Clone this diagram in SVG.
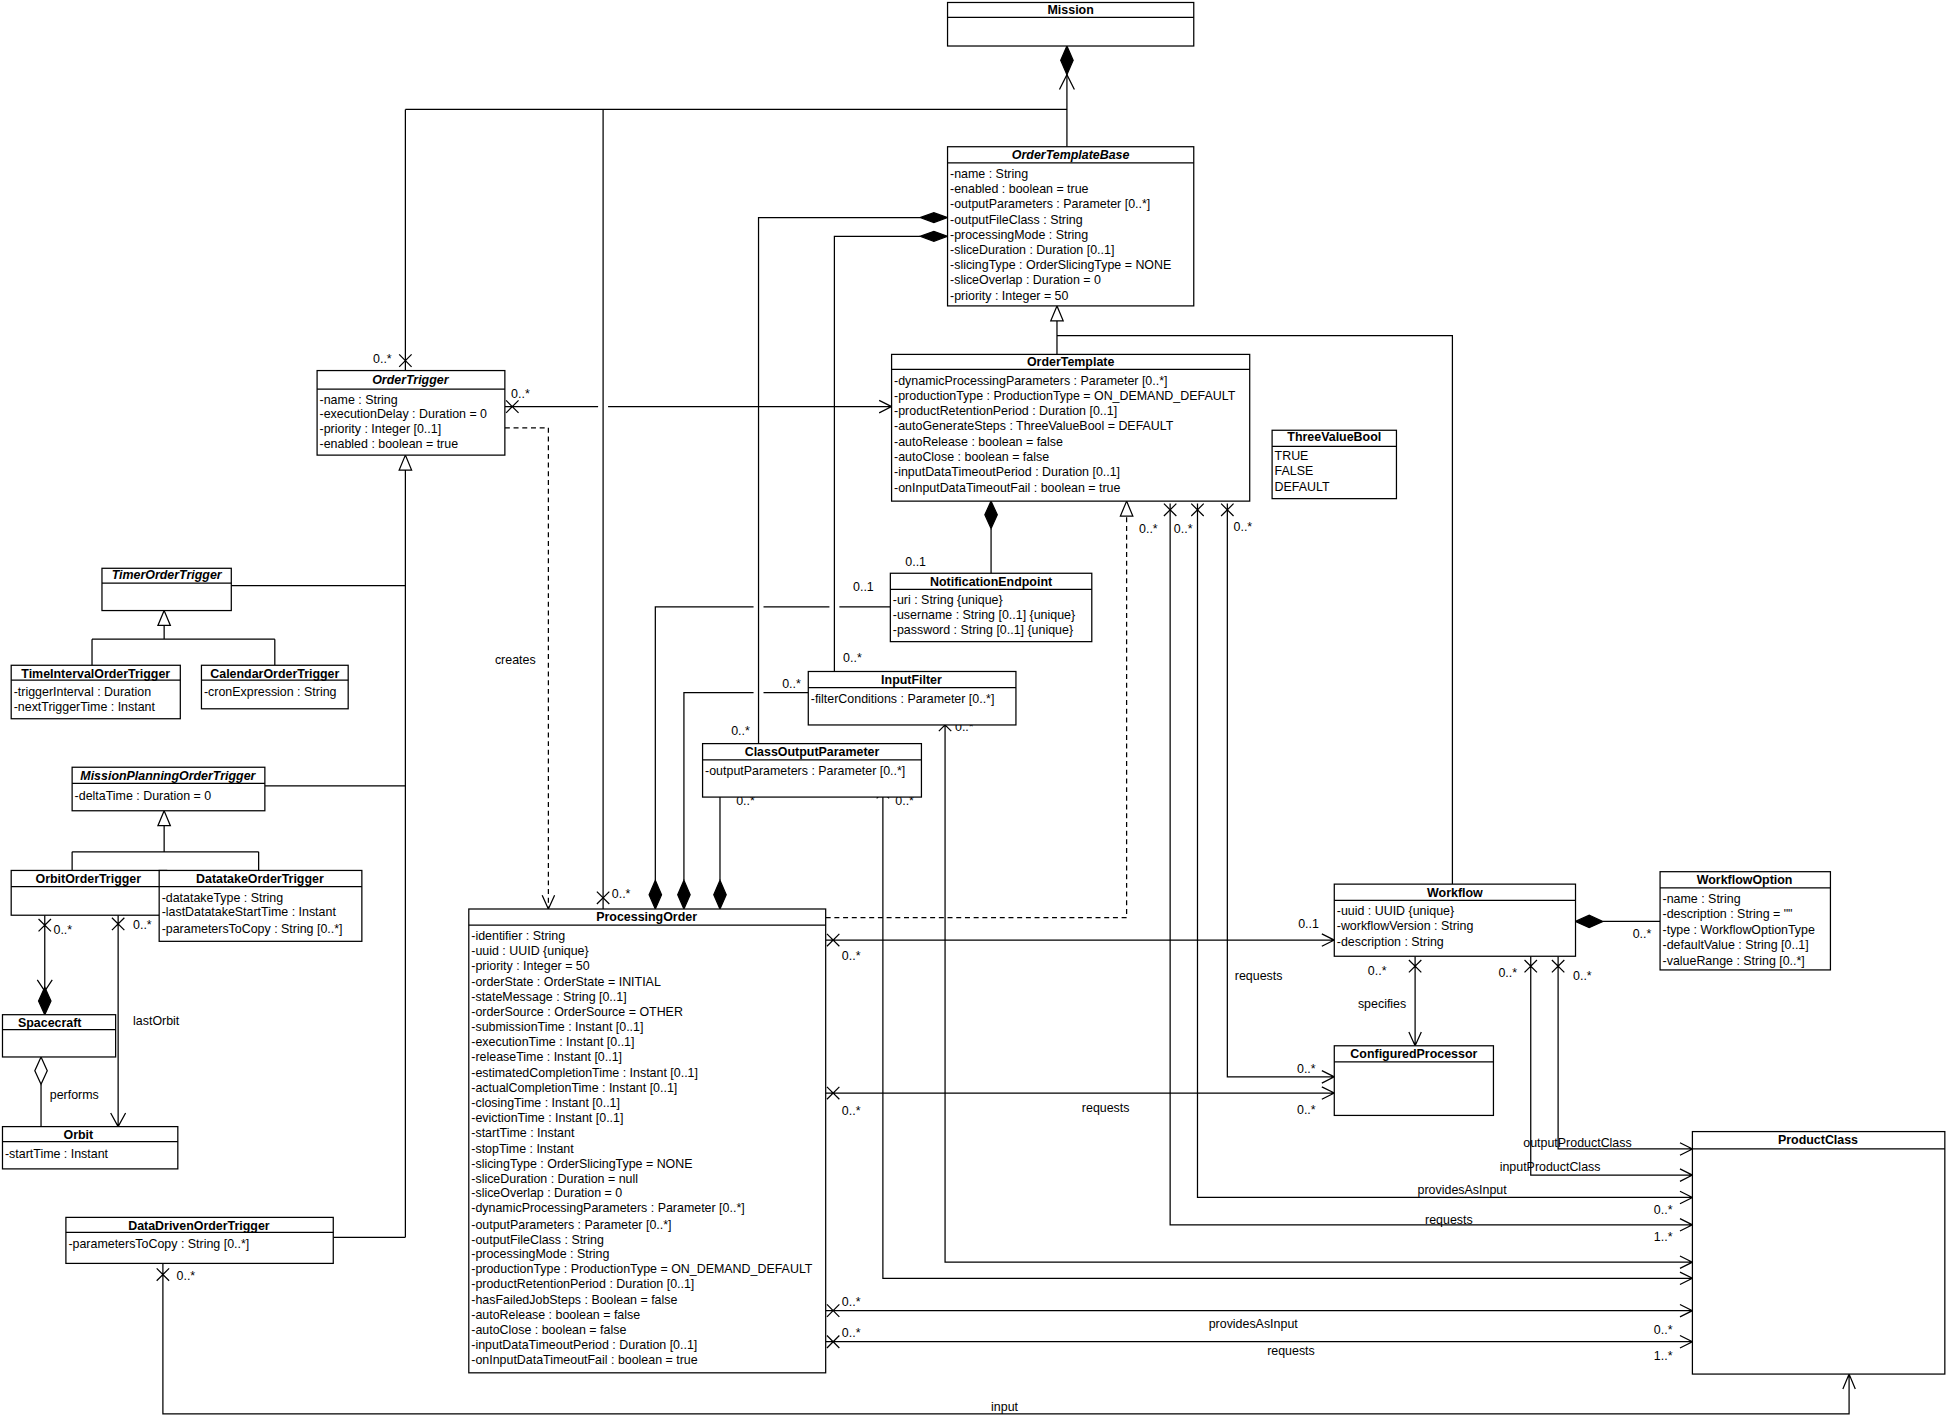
<svg xmlns="http://www.w3.org/2000/svg" width="1946" height="1416" viewBox="0 0 1946 1416">
<style>
text{font-family:"Liberation Sans",Arial,sans-serif;font-size:10px;fill:#000}
.t{font-weight:bold;text-anchor:middle}
.ti{font-weight:bold;font-style:italic;text-anchor:middle}
.b{fill:#fff;stroke:#000;stroke-width:1}
.l{fill:none;stroke:#000;stroke-width:1}
.d{fill:none;stroke:#000;stroke-width:1;stroke-dasharray:4,3}
.fd{fill:#000;stroke:#000}
.hd{fill:#fff;stroke:#000}
</style>
<rect width="1946" height="1416" fill="#fff"/>
<g transform="scale(1.2435)">
<g id="connectors">
<!-- Mission compositions -->
<path class="l" d="M858 60 V118 M326 88 H858 M326 88 V298 M485 88 V731"/>
<polygon class="fd" points="858,37 853,48.5 858,60 863,48.5"/>
<path class="l" d="M852 72 L858 60 L864 72"/>
<path class="l" d="M321 285 L331 295 M331 285 L321 295 M480 717 L490 727 M490 717 L480 727"/>
<text x="300" y="292">0..*</text>
<text x="492" y="722">0..*</text>
<!-- OTB generalization -->
<path class="l" d="M850 258 V285 M850 270 H1168 V711"/>
<polygon class="hd" points="850,246 845,258 855,258"/>
<!-- OTB compositions -->
<polygon class="fd" points="762,175 751,171 740,175 751,179"/>
<path class="l" d="M740 175 H610 V598"/>
<polygon class="fd" points="762,190 751,186 740,190 751,194"/>
<path class="l" d="M740 190 H671 V540"/>
<text x="588" y="591">0..*</text>
<text x="678" y="532">0..*</text>
<!-- OrderTrigger -> OrderTemplate -->
<path class="l" d="M406 327 H481 M489 327 H717 M707 322 L717 327 L707 332 M407 322 L417 332 M417 322 L407 332"/>
<text x="411" y="320">0..*</text>
<!-- creates -->
<path class="d" d="M406 344 H441 V731"/>
<path class="l" d="M436 720 L441 731 L446 720"/>
<text x="398" y="534">creates</text>
<!-- OrderTrigger generalization -->
<polygon class="hd" points="326,366 321,378 331,378"/>
<path class="l" d="M326 378 V995 M186 471 H326 M213 632 H326 M268 995 H326"/>
<!-- Timer gen -->
<polygon class="hd" points="132,491 127,503 137,503"/>
<path class="l" d="M132 503 V514 M74 514 H221 M74 514 V535 M221 514 V535"/>
<!-- MissionPlanning gen -->
<polygon class="hd" points="132,652 127,664 137,664"/>
<path class="l" d="M132 664 V685 M58 685 H208 M58 685 V700 M208 685 V700"/>
<!-- Orbit trigger -> spacecraft -->
<path class="l" d="M36 736 V795 M30 788 L36 797 L42 788 M31 739 L41 749 M41 739 L31 749"/>
<polygon class="fd" points="36,794 31,805 36,816 41,805"/>
<text x="43" y="751">0..*</text>
<path class="l" d="M95 736 V906 M89 895 L95 906 L101 895 M90 738 L100 748 M100 738 L90 748"/>
<text x="107" y="747">0..*</text>
<text x="107" y="824">lastOrbit</text>
<polygon class="hd" points="33,850 28,861 33,872 38,861"/>
<path class="l" d="M33 872 V906"/>
<text x="40" y="884">performs</text>
<!-- input -->
<path class="l" d="M131 1016 V1137 H1487 V1105 M1482 1117 L1487 1105 L1492 1117 M126 1020 L136 1030 M136 1020 L126 1030"/>
<text x="142" y="1029">0..*</text>
<text x="797" y="1135">input</text>
<!-- NotificationEndpoint -->
<polygon class="fd" points="797,403 792,414 797,425 802,414"/>
<path class="l" d="M797 425 V461"/>
<text x="728" y="455">0..1</text>
<path class="l" d="M716 488 H675 M667 488 H614 M606 488 H527 V708"/>
<text x="686" y="475">0..1</text>
<path class="l" d="M650 557 H614 M606 557 H550 V708"/>
<text x="629" y="553">0..*</text>
<path class="l" d="M579 641 V708"/>
<text x="592" y="647">0..*</text>
<polygon class="fd" points="527,731 522,719.5 527,708 532,719.5"/>
<polygon class="fd" points="550,731 545,719.5 550,708 555,719.5"/>
<polygon class="fd" points="579,731 574,719.5 579,708 584,719.5"/>
<!-- PO realization -->
<path class="d" d="M664 738 H906 V415"/>
<polygon class="hd" points="906,403 901,415 911,415"/>
<!-- OrderTemplate bottom associations -->
<path class="l" d="M936 405 L946 415 M946 405 L936 415 M958 405 L968 415 M968 405 L958 415 M982 405 L992 415 M992 405 L982 415"/>
<text x="916" y="429">0..*</text>
<text x="944" y="429">0..*</text>
<text x="992" y="427">0..*</text>
<path class="l" d="M941 405 V985 H1361 M1351 980 L1361 985 L1351 990"/>
<text x="1146" y="984">requests</text>
<text x="1330" y="998">1..*</text>
<path class="l" d="M963 405 V963 H1361 M1351 958 L1361 963 L1351 968"/>
<text x="1140" y="960">providesAsInput</text>
<text x="1330" y="976">0..*</text>
<path class="l" d="M987 405 V866 H1073 M1063 861 L1073 866 L1063 871"/>
<text x="993" y="788">requests</text>
<text x="1043" y="863">0..*</text>
<!-- ClassOutputParameter / InputFilter -> ProductClass -->
<path class="l" d="M710 641 V1028 H1361 M1351 1023 L1361 1028 L1351 1033 M705 632 L715 642 M715 632 L705 642"/>
<text x="720" y="647">0..*</text>
<path class="l" d="M760 583 V1015 H1361 M1351 1010 L1361 1015 L1351 1020 M755 578 L765 588 M765 578 L755 588"/>
<text x="768" y="588">0..*</text>
<!-- PO -> Workflow -->
<path class="l" d="M664 756 H1073 M1063 751 L1073 756 L1063 761 M665 751 L675 761 M675 751 L665 761"/>
<text x="677" y="772">0..*</text>
<text x="1044" y="746">0..1</text>
<!-- PO -> ConfiguredProcessor -->
<path class="l" d="M664 879 H1073 M1063 874 L1073 879 L1063 884 M665 874 L675 884 M675 874 L665 884"/>
<text x="677" y="897">0..*</text>
<text x="870" y="894">requests</text>
<text x="1043" y="896">0..*</text>
<!-- PO -> ProductClass -->
<path class="l" d="M664 1054 H1361 M1351 1049 L1361 1054 L1351 1059 M665 1049 L675 1059 M675 1049 L665 1059"/>
<text x="677" y="1050">0..*</text>
<text x="972" y="1068">providesAsInput</text>
<text x="1330" y="1073">0..*</text>
<path class="l" d="M664 1079 H1361 M1351 1074 L1361 1079 L1351 1084 M665 1074 L675 1084 M675 1074 L665 1084"/>
<text x="677" y="1075">0..*</text>
<text x="1019" y="1090">requests</text>
<text x="1330" y="1094">1..*</text>
<!-- Workflow -> ConfiguredProcessor -->
<path class="l" d="M1138 769 V841 M1133 830 L1138 841 L1143 830 M1133 772 L1143 782 M1143 772 L1133 782"/>
<text x="1100" y="784">0..*</text>
<text x="1092" y="811">specifies</text>
<!-- Workflow -> ProductClass -->
<path class="l" d="M1231 769 V945 H1361 M1351 940 L1361 945 L1351 950 M1226 772 L1236 782 M1236 772 L1226 782"/>
<text x="1205" y="786">0..*</text>
<text x="1206" y="942">inputProductClass</text>
<path class="l" d="M1253 769 V924 H1361 M1351 919 L1361 924 L1351 929 M1248 772 L1258 782 M1258 772 L1248 782"/>
<text x="1265" y="788">0..*</text>
<text x="1225" y="922">outputProductClass</text>
<!-- Workflow - WorkflowOption -->
<polygon class="fd" points="1267,741 1278,736 1289,741 1278,746"/>
<path class="l" d="M1289 741 H1335"/>
<text x="1313" y="754">0..*</text>
</g>

<g id="Mission"><rect class="b" x="762" y="2" width="198" height="35"/><path class="l" d="M762 14 H960"/><text class="t" x="861" y="11">Mission</text></g>

<g id="OrderTemplateBase"><rect class="b" x="762" y="118" width="198" height="128"/><path class="l" d="M762 131 H960"/><text class="ti" x="861" y="128">OrderTemplateBase</text>
<text x="764" y="143">-name : String</text><text x="764" y="155">-enabled : boolean = true</text><text x="764" y="167">-outputParameters : Parameter [0..*]</text><text x="764" y="180">-outputFileClass : String</text><text x="764" y="192">-processingMode : String</text><text x="764" y="204">-sliceDuration : Duration [0..1]</text><text x="764" y="216">-slicingType : OrderSlicingType = NONE</text><text x="764" y="228">-sliceOverlap : Duration = 0</text><text x="764" y="241">-priority : Integer = 50</text></g>

<g id="OrderTemplate"><rect class="b" x="717" y="285" width="288" height="118"/><path class="l" d="M717 297 H1005"/><text class="t" x="861" y="294">OrderTemplate</text>
<text x="719" y="310">-dynamicProcessingParameters : Parameter [0..*]</text><text x="719" y="322">-productionType : ProductionType = ON_DEMAND_DEFAULT</text><text x="719" y="334">-productRetentionPeriod : Duration [0..1]</text><text x="719" y="346">-autoGenerateSteps : ThreeValueBool = DEFAULT</text><text x="719" y="359">-autoRelease : boolean = false</text><text x="719" y="371">-autoClose : boolean = false</text><text x="719" y="383">-inputDataTimeoutPeriod : Duration [0..1]</text><text x="719" y="396">-onInputDataTimeoutFail : boolean = true</text></g>

<g id="ThreeValueBool"><rect class="b" x="1023" y="346" width="100" height="55"/><path class="l" d="M1023 359 H1123"/><text class="t" x="1073" y="355">ThreeValueBool</text><text x="1025" y="370">TRUE</text><text x="1025" y="382">FALSE</text><text x="1025" y="395">DEFAULT</text></g>

<g id="OrderTrigger"><rect class="b" x="255" y="298" width="151" height="68"/><path class="l" d="M255 313 H406"/><text class="ti" x="330" y="309">OrderTrigger</text>
<text x="257" y="325">-name : String</text><text x="257" y="336">-executionDelay : Duration = 0</text><text x="257" y="348">-priority : Integer [0..1]</text><text x="257" y="360">-enabled : boolean = true</text></g>

<g id="TimerOrderTrigger"><rect class="b" x="82" y="457" width="104" height="34"/><path class="l" d="M82 469 H186"/><text class="ti" x="134" y="466">TimerOrderTrigger</text></g>

<g id="TimeIntervalOrderTrigger"><rect class="b" x="9" y="535" width="136" height="43"/><path class="l" d="M9 547 H145"/><text class="t" x="77" y="545">TimeIntervalOrderTrigger</text><text x="11" y="560">-triggerInterval : Duration</text><text x="11" y="572">-nextTriggerTime : Instant</text></g>

<g id="CalendarOrderTrigger"><rect class="b" x="162" y="535" width="118" height="35"/><path class="l" d="M162 547 H280"/><text class="t" x="221" y="545">CalendarOrderTrigger</text><text x="164" y="560">-cronExpression : String</text></g>

<g id="MissionPlanningOrderTrigger"><rect class="b" x="58" y="617" width="155" height="35"/><path class="l" d="M58 630 H213"/><text class="ti" x="135" y="627">MissionPlanningOrderTrigger</text><text x="60" y="643">-deltaTime : Duration = 0</text></g>

<g id="OrbitOrderTrigger"><rect class="b" x="9" y="700" width="125" height="36"/><path class="l" d="M9 713 H134"/><text class="t" x="71" y="710">OrbitOrderTrigger</text></g>

<g id="DatatakeOrderTrigger"><rect class="b" x="128" y="700" width="163" height="57"/><path class="l" d="M128 713 H291"/><text class="t" x="209" y="710">DatatakeOrderTrigger</text><text x="130" y="725">-datatakeType : String</text><text x="130" y="737">-lastDatatakeStartTime : Instant</text><text x="130" y="750">-parametersToCopy : String [0..*]</text></g>

<g id="Spacecraft"><rect class="b" x="2" y="816" width="91" height="34"/><path class="l" d="M2 828 H93"/><text class="t" x="40" y="826">Spacecraft</text></g>

<g id="Orbit"><rect class="b" x="2" y="906" width="141" height="34"/><path class="l" d="M2 918 H143"/><text class="t" x="63" y="916">Orbit</text><text x="4" y="931">-startTime : Instant</text></g>

<g id="DataDrivenOrderTrigger"><rect class="b" x="53" y="979" width="215" height="37"/><path class="l" d="M53 991 H268"/><text class="t" x="160" y="989">DataDrivenOrderTrigger</text><text x="55" y="1004">-parametersToCopy : String [0..*]</text></g>

<g id="NotificationEndpoint"><rect class="b" x="716" y="461" width="162" height="55"/><path class="l" d="M716 474 H878"/><text class="t" x="797" y="471">NotificationEndpoint</text><text x="718" y="486">-uri : String {unique}</text><text x="718" y="498">-username : String [0..1] {unique}</text><text x="718" y="510">-password : String [0..1] {unique}</text></g>

<g id="InputFilter"><rect class="b" x="650" y="540" width="167" height="43"/><path class="l" d="M650 553 H817"/><text class="t" x="733" y="550">InputFilter</text><text x="652" y="565">-filterConditions : Parameter [0..*]</text></g>

<g id="ClassOutputParameter"><rect class="b" x="565" y="598" width="176" height="43"/><path class="l" d="M565 611 H741"/><text class="t" x="653" y="608">ClassOutputParameter</text><text x="567" y="623">-outputParameters : Parameter [0..*]</text></g>

<g id="ProcessingOrder"><rect class="b" x="377" y="731" width="287" height="373"/><path class="l" d="M377 744 H664"/><text class="t" x="520" y="741">ProcessingOrder</text>
<text x="379" y="756">-identifier : String</text>
<text x="379" y="768">-uuid : UUID {unique}</text>
<text x="379" y="780">-priority : Integer = 50</text>
<text x="379" y="793">-orderState : OrderState = INITIAL</text>
<text x="379" y="805">-stateMessage : String [0..1]</text>
<text x="379" y="817">-orderSource : OrderSource = OTHER</text>
<text x="379" y="829">-submissionTime : Instant [0..1]</text>
<text x="379" y="841">-executionTime : Instant [0..1]</text>
<text x="379" y="853">-releaseTime : Instant [0..1]</text>
<text x="379" y="866">-estimatedCompletionTime : Instant [0..1]</text>
<text x="379" y="878">-actualCompletionTime : Instant [0..1]</text>
<text x="379" y="890">-closingTime : Instant [0..1]</text>
<text x="379" y="902">-evictionTime : Instant [0..1]</text>
<text x="379" y="914">-startTime : Instant</text>
<text x="379" y="927">-stopTime : Instant</text>
<text x="379" y="939">-slicingType : OrderSlicingType = NONE</text>
<text x="379" y="951">-sliceDuration : Duration = null</text>
<text x="379" y="963">-sliceOverlap : Duration = 0</text>
<text x="379" y="975">-dynamicProcessingParameters : Parameter [0..*]</text>
<text x="379" y="988">-outputParameters : Parameter [0..*]</text>
<text x="379" y="1000">-outputFileClass : String</text>
<text x="379" y="1012">-processingMode : String</text>
<text x="379" y="1024">-productionType : ProductionType = ON_DEMAND_DEFAULT</text>
<text x="379" y="1036">-productRetentionPeriod : Duration [0..1]</text>
<text x="379" y="1049">-hasFailedJobSteps : Boolean = false</text>
<text x="379" y="1061">-autoRelease : boolean = false</text>
<text x="379" y="1073">-autoClose : boolean = false</text>
<text x="379" y="1085">-inputDataTimeoutPeriod : Duration [0..1]</text>
<text x="379" y="1097">-onInputDataTimeoutFail : boolean = true</text></g>

<g id="Workflow"><rect class="b" x="1073" y="711" width="194" height="58"/><path class="l" d="M1073 724 H1267"/><text class="t" x="1170" y="721">Workflow</text><text x="1075" y="736">-uuid : UUID {unique}</text><text x="1075" y="748">-workflowVersion : String</text><text x="1075" y="761">-description : String</text></g>

<g id="WorkflowOption"><rect class="b" x="1335" y="701" width="137" height="79"/><path class="l" d="M1335 714 H1472"/><text class="t" x="1403" y="711">WorkflowOption</text><text x="1337" y="726">-name : String</text><text x="1337" y="738">-description : String = ""</text><text x="1337" y="751">-type : WorkflowOptionType</text><text x="1337" y="763">-defaultValue : String [0..1]</text><text x="1337" y="776">-valueRange : String [0..*]</text></g>

<g id="ConfiguredProcessor"><rect class="b" x="1073" y="841" width="128" height="56"/><path class="l" d="M1073 854 H1201"/><text class="t" x="1137" y="851">ConfiguredProcessor</text></g>

<g id="ProductClass"><rect class="b" x="1361" y="910" width="203" height="195"/><path class="l" d="M1361 924 H1564"/><text class="t" x="1462" y="920">ProductClass</text></g>
</g>
</svg>
